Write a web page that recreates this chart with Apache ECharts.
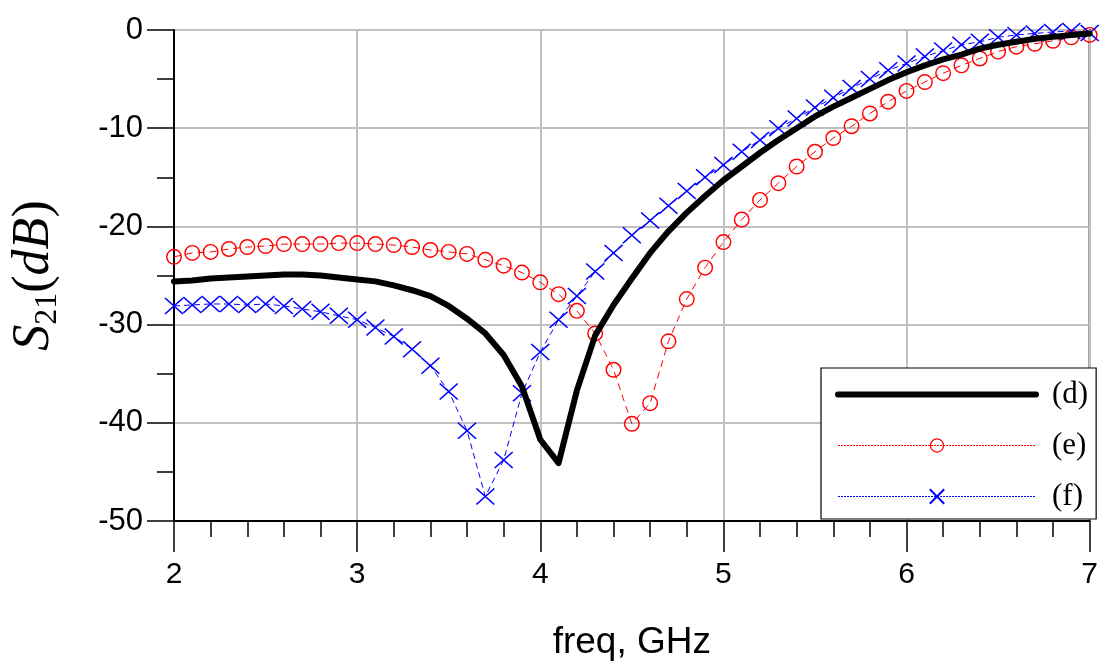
<!DOCTYPE html>
<html>
<head>
<meta charset="utf-8">
<script src="https://cdn.jsdelivr.net/npm/echarts@6/dist/echarts.min.js"></script>
<style>
html,body{margin:0;padding:0;background:#fff;}
#chart{width:1101px;height:666px;}
</style>
</head>
<body>
<div id="chart"></div>
<script>
const freq = [2.0,2.1,2.2,2.3,2.4,2.5,2.6,2.7,2.8,2.9,3.0,3.1,3.2,3.3,3.4,3.5,3.6,3.7,3.8,3.9,4.0,4.1,4.2,4.3,4.4,4.5,4.6,4.7,4.8,4.9,5.0,5.1,5.2,5.3,5.4,5.5,5.6,5.7,5.8,5.9,6.0,6.1,6.2,6.3,6.4,6.5,6.6,6.7,6.8,6.9,7.0];
const seriesD = [-25.6,-25.5,-25.3,-25.2,-25.1,-25.0,-24.9,-24.9,-25.0,-25.2,-25.4,-25.6,-26.0,-26.5,-27.1,-28.1,-29.4,-30.9,-33.1,-36.3,-41.7,-44.1,-36.7,-31.1,-28.0,-25.3,-22.7,-20.5,-18.6,-16.9,-15.3,-13.9,-12.5,-11.2,-10.0,-8.8,-7.8,-6.9,-6.0,-5.1,-4.3,-3.6,-3.0,-2.5,-1.9,-1.5,-1.2,-0.9,-0.7,-0.5,-0.35];
const seriesE = [-23.1,-22.7,-22.6,-22.3,-22.1,-22.0,-21.8,-21.8,-21.8,-21.7,-21.7,-21.8,-21.9,-22.1,-22.4,-22.6,-22.8,-23.4,-24.0,-24.7,-25.7,-26.9,-28.6,-30.9,-34.6,-40.1,-38.0,-31.7,-27.4,-24.2,-21.6,-19.3,-17.3,-15.6,-13.9,-12.4,-11.0,-9.8,-8.5,-7.3,-6.2,-5.3,-4.4,-3.6,-2.9,-2.2,-1.7,-1.4,-1.1,-0.75,-0.5];
const seriesF = [-28.1,-28.0,-27.9,-27.9,-28.0,-27.9,-28.1,-28.4,-28.7,-29.1,-29.5,-30.3,-31.2,-32.5,-34.2,-36.8,-40.8,-47.5,-43.8,-37.0,-32.8,-29.5,-27.1,-24.6,-22.7,-20.9,-19.4,-17.9,-16.4,-15.0,-13.75,-12.4,-11.2,-10.0,-9.0,-7.9,-6.9,-5.9,-5.0,-4.1,-3.4,-2.7,-2.1,-1.5,-1.2,-0.75,-0.5,-0.35,-0.2,-0.1,-0.3];
const seriesNames = ['(d)','(e)','(f)'];
const xTicks = [2,3,4,5,6,7];
const yTicks = [0,-10,-20,-30,-40,-50];

function pairs(ys){ return freq.map((f,i)=>[f, ys[i]]); }

const RING = 'path://M10,0A10,10,0,1,1,10,20A10,10,0,1,1,10,0ZM10,1.8A8.2,8.2,0,1,0,10,18.2A8.2,8.2,0,1,0,10,1.8Z';
const CROSS = 'path://M0,0L10,10M10,0L0,10';

const chart = echarts.init(document.getElementById('chart'), null, {renderer:'canvas'});
const sans = 'Liberation Sans, Arial, sans-serif';
const serif = 'Liberation Serif, Times New Roman, serif';
chart.setOption({
  animation:false,
  backgroundColor:'#fff',
  color:['#000000','#ff0000','#0000ff'],
  grid:{left:174,right:9,top:30,bottom:145,show:true,borderColor:'#000',borderWidth:2,backgroundColor:'transparent'},
  xAxis:{
    type:'value',min:2,max:7,interval:1,
    name:'freq, GHz',nameLocation:'middle',nameGap:103,
    nameTextStyle:{fontFamily:sans,fontSize:37,color:'#000'},
    axisLine:{show:true,onZero:false,lineStyle:{color:'#000',width:2}},
    axisTick:{show:true,length:31,lineStyle:{color:'#000',width:1.5}},
    minorTick:{show:true,splitNumber:5,length:16,lineStyle:{color:'#000',width:1.5}},
    splitLine:{show:true,lineStyle:{color:'#c0c0c0',width:2}},
    axisLabel:{fontFamily:sans,fontSize:30,color:'#000',margin:39,
      formatter:v=> xTicks.includes(v) ? String(v) : ''}
  },
  yAxis:{
    type:'value',min:-50,max:0,interval:10,
    name:'{i|S}{s|21}{n|(}{i|dB}{n|)}',nameLocation:'middle',nameRotate:90,nameGap:110,
    nameTextStyle:{
      color:'#000',
      rich:{
        i:{fontFamily:serif,fontStyle:'italic',fontSize:52,lineHeight:60,color:'#000'},
        n:{fontFamily:serif,fontSize:52,lineHeight:60,color:'#000'},
        s:{fontFamily:serif,fontSize:32,lineHeight:18,verticalAlign:'bottom',color:'#000'}
      }
    },
    axisLine:{show:true,onZero:false,lineStyle:{color:'#000',width:2}},
    axisTick:{show:true,length:27,lineStyle:{color:'#000',width:1.5}},
    minorTick:{show:true,splitNumber:2,length:17,lineStyle:{color:'#000',width:1.5}},
    splitLine:{show:true,lineStyle:{color:'#c0c0c0',width:2}},
    axisLabel:{fontFamily:sans,fontSize:31,color:'#000',margin:31,
      formatter:v=> yTicks.includes(v) ? String(v) : ''}
  },
  legend:{
    show:true,orient:'vertical',left:821,top:368,
    padding:[11,8,7,14],itemGap:20,itemWidth:198,itemHeight:18,
    backgroundColor:'#fff',borderColor:'#000',borderWidth:1.2,borderRadius:0,
    textStyle:{fontFamily:serif,fontSize:31,color:'#000',padding:[0,0,0,11]},
    data:[
      {name:seriesNames[0],lineStyle:{color:'#000000',width:6,cap:'round'},itemStyle:{opacity:0}},
      {name:seriesNames[1],lineStyle:{color:'#ff0000',type:[2,1],width:1}},
      {name:seriesNames[2],lineStyle:{color:'#0000ff',type:[2,1],width:1}}
    ]
  },
  series:[
    {name:seriesNames[0],type:'line',data:pairs(seriesD),showSymbol:false,symbol:'none',color:'#000000',
     lineStyle:{color:'#000000',width:6,cap:'round',join:'round'},itemStyle:{color:'#000000'},z:3},
    {name:seriesNames[1],type:'line',data:pairs(seriesE),symbol:RING,symbolSize:16,color:'#ff0000',
     lineStyle:{color:'#ff0000',width:1,type:[7,5]},
     itemStyle:{color:'#ff0000',borderWidth:0},z:2},
    {name:seriesNames[2],type:'line',data:pairs(seriesF),symbol:CROSS,symbolSize:[18,16],color:'#0000ff',
     lineStyle:{color:'#0000ff',width:1,type:[6,4]},
     itemStyle:{color:'#0000ff',borderColor:'#0000ff',borderWidth:1.5},z:2}
  ]
});
</script>
</body>
</html>
